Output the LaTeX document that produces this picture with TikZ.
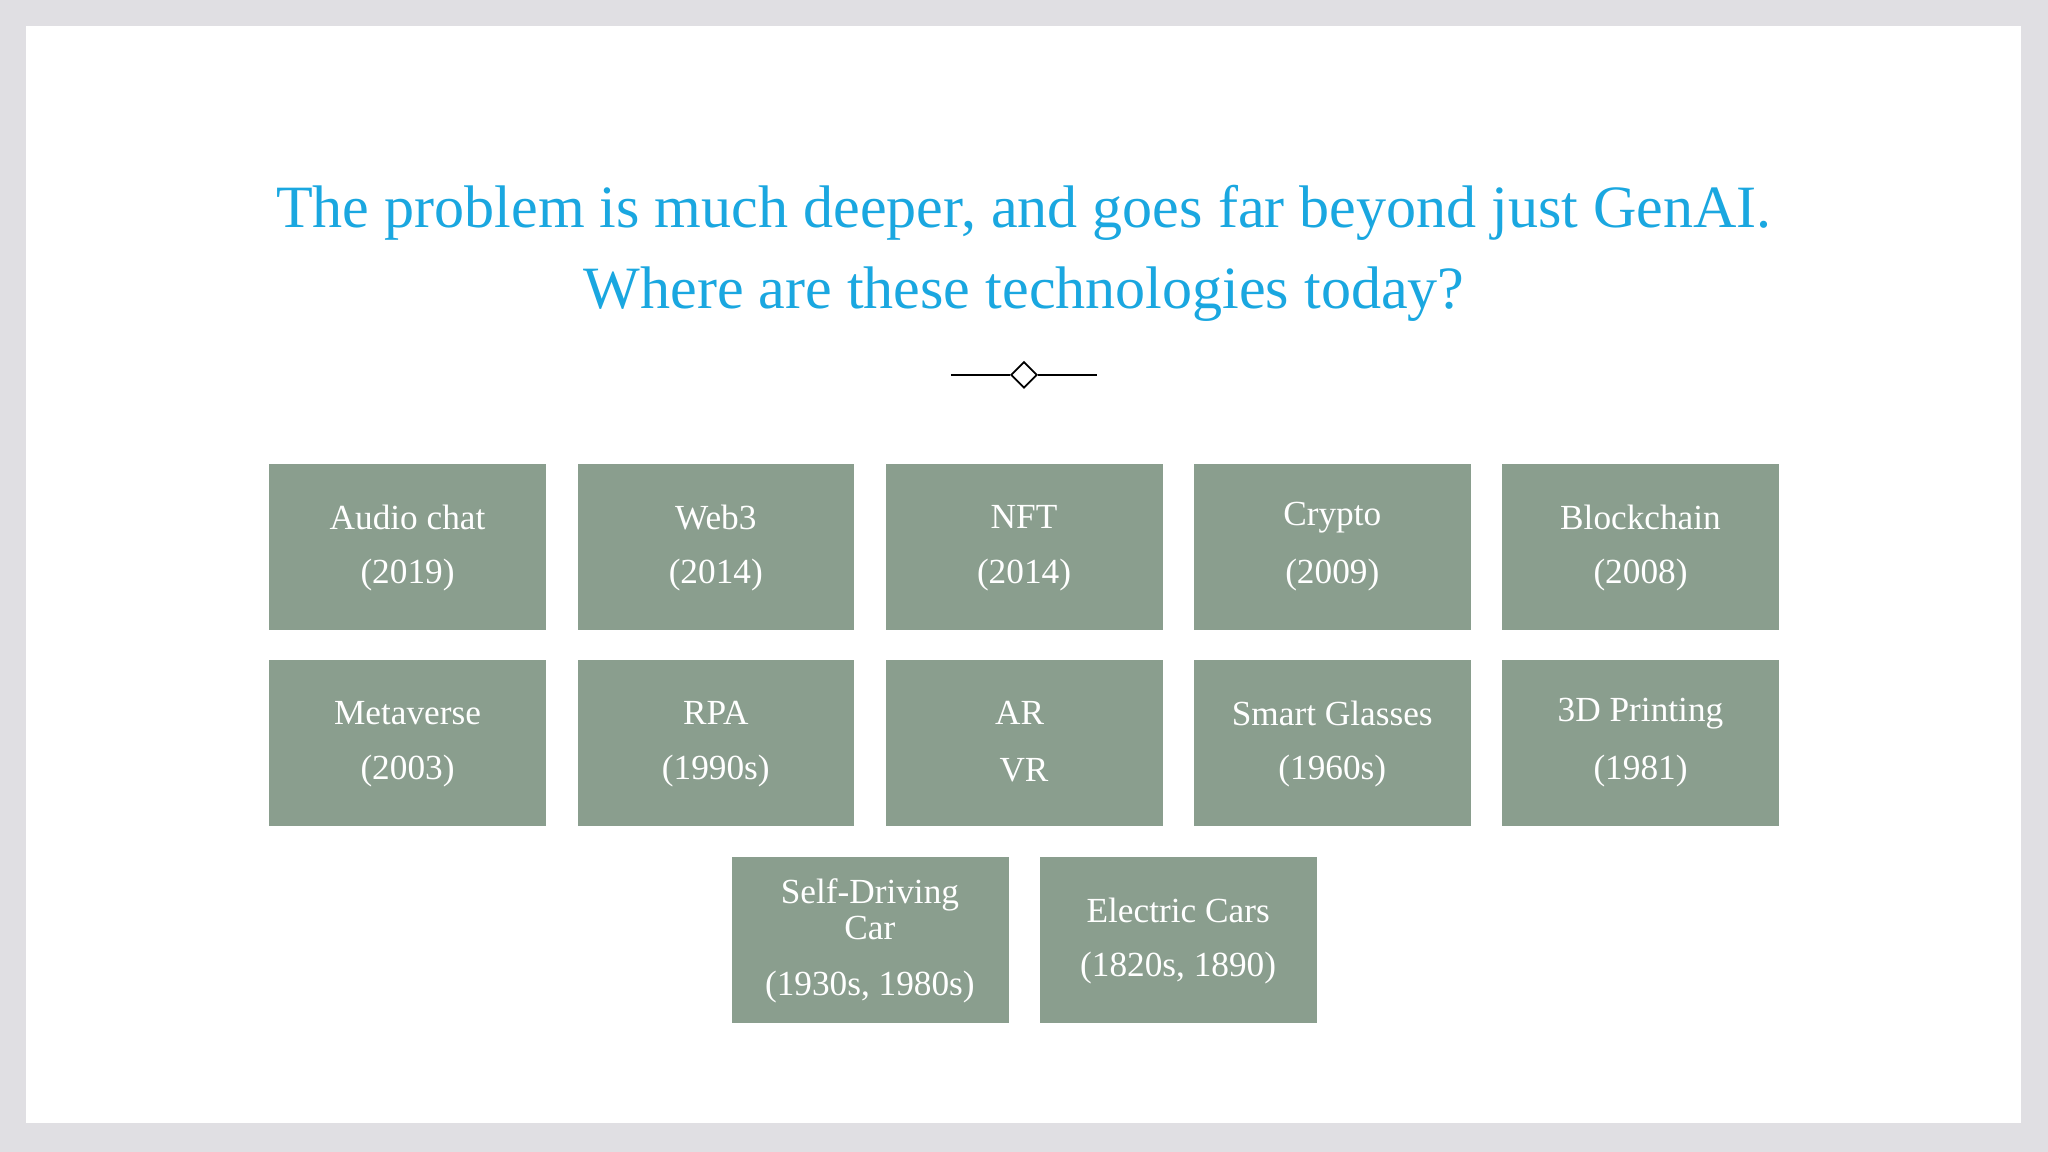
\documentclass[tikz,border=0pt]{standalone}
\usepackage{fontspec}
\usetikzlibrary{shapes.geometric}
\setmainfont{Liberation Serif}
\definecolor{bg}{HTML}{E0DFE3}
\definecolor{ttl}{HTML}{1AA7E0}
\definecolor{boxc}{HTML}{8A9E8E}
\begin{document}
\begin{tikzpicture}[x=1pt,y=-1pt,
  card/.style={fill=boxc,minimum width=212pt,minimum height=127pt,anchor=north west,inner sep=0pt},
  lbl/.style={text=white,font=\fontsize{27}{30}\selectfont,align=center}]
\useasboundingbox (0,0) rectangle (1568,882);
\fill[bg] (0,0) rectangle (1568,882);
\fill[white] (20,20) rectangle (1547,860);
\node[text=ttl,font=\fontsize{46}{52}\selectfont] (t1) at (784,163) {The problem is much deeper, and goes far beyond just GenAI.};
\node[text=ttl,font=\fontsize{46}{52}\selectfont] (t2) at (784,225) {Where are these technologies today?};
\node[draw,diamond,inner sep=0pt,minimum width=20pt,minimum height=20pt,line width=1.3pt,fill=white] (d) at (784,287) {};
\draw[line width=1.3pt] (728,287) -- (d.west);
\draw[line width=1.3pt] (d.east) -- (840,287);
\foreach \x/\a/\b/\n in {206/Audio chat/(2019)/a1,442/Web3/(2014)/a2,678/NFT/(2014)/a3,914/Crypto/(2009)/a4,1150/Blockchain/(2008)/a5}{
  \node[card] (\n) at (\x,355) {};
  \node[lbl] (\n t) at (\x+106,396) {\a};
  \node[lbl] (\n y) at (\x+106,440) {\b};
}
\foreach \x/\a/\b/\n in {206/Metaverse/(2003)/b1,442/RPA/(1990s)/b2,678/AR / VR/(1968)/b3,914/Smart Glasses/(1960s)/b4,1150/3D Printing/(1981)/b5}{
  \node[card] (\n) at (\x,505) {};
  \node[lbl] (\n t) at (\x+106,546) {\a};
  \node[lbl] (\n y) at (\x+106,590) {\b};
}
\node[card] (c1) at (560,656) {};
\node[lbl] (c1t) at (666,696) {Self-Driving\\[-2pt]Car};
\node[lbl] (c1y) at (666,756) {(1930s, 1980s)};
\node[card] (c2) at (796,656) {};
\node[lbl] (c2t) at (902,697) {Electric Cars};
\node[lbl] (c2y) at (902,741) {(1820s, 1890)};
\end{tikzpicture}
\end{document}
